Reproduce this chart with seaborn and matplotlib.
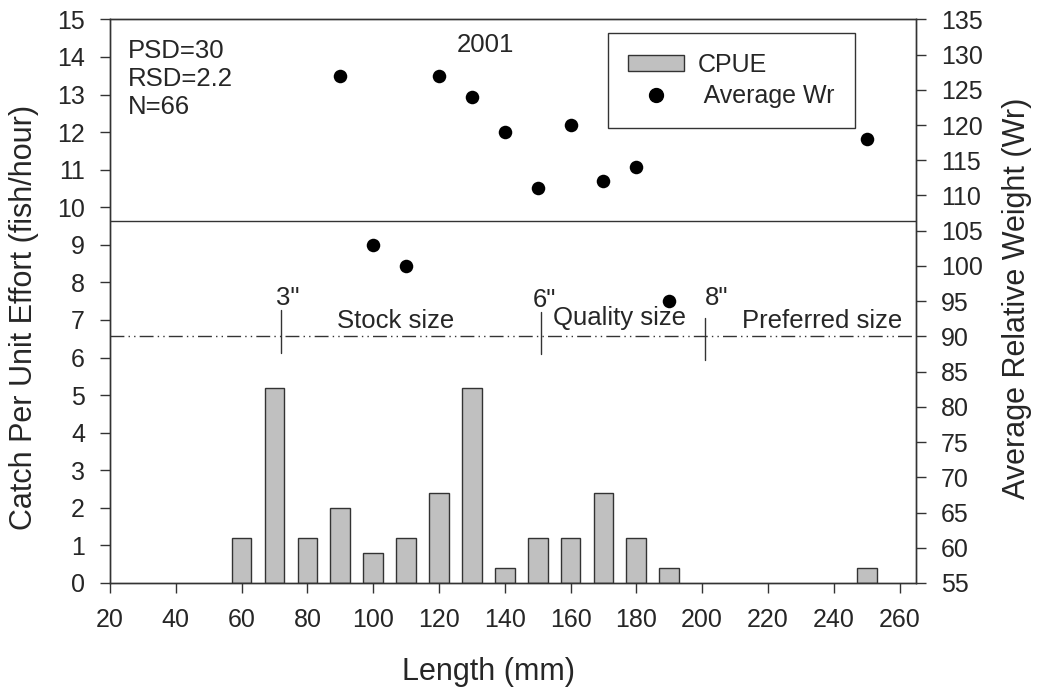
import matplotlib
matplotlib.use("Agg")
import matplotlib.pyplot as plt
import seaborn as sns
from matplotlib.patches import Patch
from matplotlib.lines import Line2D

# data
lengths = [60, 70, 80, 90, 100, 110, 120, 130, 140, 150, 160, 170, 180, 190, 250]
cpue = [1.2, 5.2, 1.2, 2.0, 0.8, 1.2, 2.4, 5.2, 0.4, 1.2, 1.2, 2.4, 1.2, 0.4, 0.4]
wr_lengths = [90, 100, 110, 120, 130, 140, 150, 160, 170, 180, 190, 250]
wr_values = [127, 103, 100, 127, 124, 119, 111, 120, 112, 114, 95, 118]
size_marks = [72, 151, 201]
size_mark_labels = ['3"', '6"', '8"']
size_names = ["Stock size", "Quality size", "Preferred size"]
stats_lines = ["PSD=30", "RSD=2.2", "N=66"]

sns.set_style("ticks")
plt.rcParams['font.family'] = ['Liberation Sans', 'DejaVu Sans']
edge = "#333333"

fig = plt.figure(figsize=(10.39, 6.94), dpi=100)
ax = fig.add_axes([0.1059, 0.16, 0.7757, 0.8121])

sns.barplot(x=lengths, y=cpue, native_scale=True, width=0.6, color="#c0c0c0",
            edgecolor=edge, linewidth=1, saturation=1, ax=ax)
ax.set_xlim(20, 265)
ax.set_ylim(0, 15)
ax.set_xticks(range(20, 261, 20))
ax.set_yticks(range(0, 16))
ax.set_xlabel("Length (mm)", fontsize=22)
ax.set_ylabel("Catch Per Unit Effort (fish/hour)", fontsize=22)
ax.tick_params(labelsize=18, length=7, width=1, color=edge, pad=11)
ax.xaxis.set_label_coords(0.470, -0.158)
ax.xaxis.label.set_verticalalignment("center")
ax.yaxis.set_label_coords(-0.107, 0.471)
ax.yaxis.label.set_verticalalignment("center")

ax2 = ax.twinx()
sns.scatterplot(x=wr_lengths, y=wr_values, color="black", s=95, edgecolor="black",
                linewidth=0, ax=ax2, legend=False)
ax2.set_ylim(55, 135)
ax2.set_yticks(range(55, 136, 5))
ax2.set_ylabel("Average Relative Weight (Wr)", fontsize=22)
ax2.tick_params(labelsize=18, length=7, width=1, color=edge, pad=11)
ax2.yaxis.set_label_coords(1.125, 0.505)
ax2.yaxis.label.set_verticalalignment("center")

for a in (ax, ax2):
    for sp in a.spines.values():
        sp.set_visible(True)
        sp.set_color(edge)
        sp.set_linewidth(1)

# reference lines (right axis units)
ax2.axhline(106.4, color=edge, linewidth=1)
ax2.axhline(90, color=edge, linewidth=1, dashes=[10, 3, 1, 3, 1, 3])
mark_top = [93.8, 93.5, 92.6]
mark_bottom = [87.7, 87.5, 86.7]
mark_text_x = [70.5, 148.5, 200.7]
mark_text_y = [94.5, 94.2, 94.5]
name_x = [106.9, 174.8, 236.4]
name_y = [91.2, 91.6, 91.2]
for i, xm in enumerate(size_marks):
    ax2.plot([xm, xm], [mark_top[i], mark_bottom[i]], color=edge, linewidth=1)
    ax2.text(mark_text_x[i], mark_text_y[i], size_mark_labels[i], fontsize=18.5,
             ha="left", va="baseline")
    ax2.text(name_x[i], name_y[i], size_names[i], fontsize=18.5, ha="center", va="baseline")

for line, yb in zip(stats_lines, [13.97, 13.23, 12.48]):
    ax.text(25.5, yb, line, fontsize=18.5, ha="left", va="baseline")
ax.text(134.2, 14.13, "2001", fontsize=18.5, ha="center", va="baseline")

handles = [Patch(facecolor="#c0c0c0", edgecolor=edge, label="CPUE"),
           Line2D([], [], marker="o", linestyle="none", color="black", markersize=10,
                  label=" Average Wr")]
leg = ax2.legend(handles=handles, loc="upper left", bbox_to_anchor=(0.618, 0.976),
                 fontsize=18, frameon=True, fancybox=False, edgecolor=edge,
                 borderpad=0.8, handlelength=2.24, handleheight=0.6, handletextpad=0.56,
                 labelspacing=0.3, borderaxespad=0)
leg.get_frame().set_linewidth(1)
leg.get_frame().set_alpha(1)

fig.savefig("out.png", dpi=100)
